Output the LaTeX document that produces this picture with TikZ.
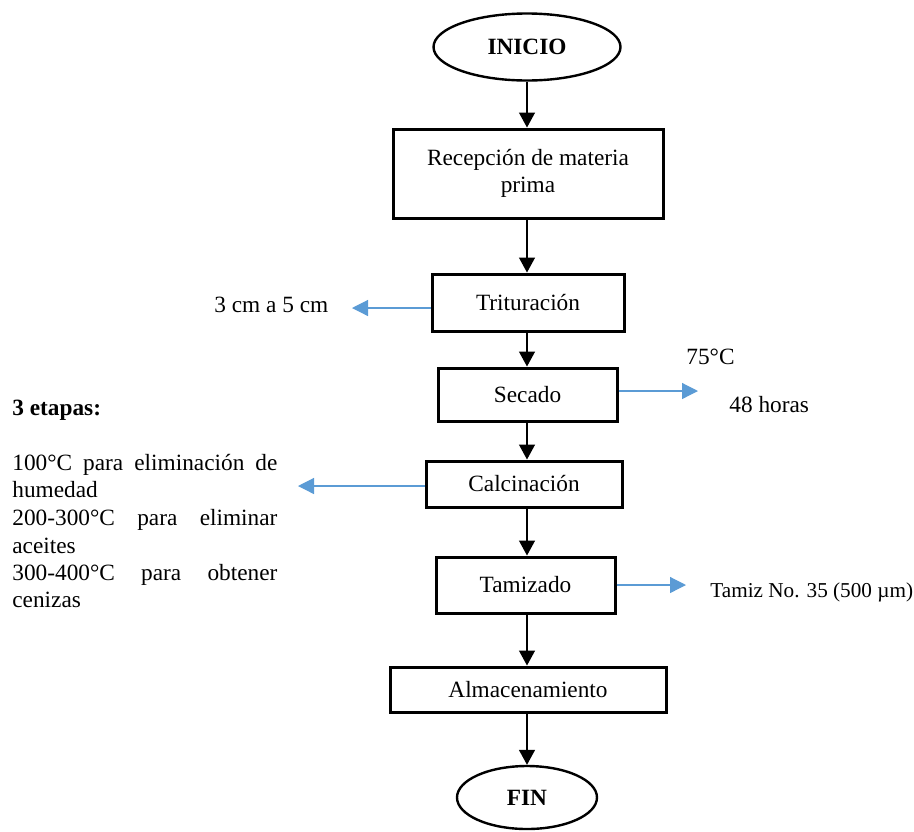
\documentclass[tikz,border=0pt]{standalone}
\usepackage{fontspec}
\setmainfont{Liberation Serif}
\usetikzlibrary{arrows.meta,shapes.geometric}
\definecolor{flowblue}{HTML}{5B9BD5}
\newcommand{\jline}[1]{\makebox[132.5pt][s]{#1}}
\begin{document}
\begin{tikzpicture}[x=0.5pt,y=-0.5pt,
  font=\fontsize{11.65}{13.2}\selectfont,
  stepbox/.style={draw, line width=1.5pt, rectangle, inner sep=0pt, align=center},
  terminal/.style={draw, ellipse, line width=1.2pt, inner sep=0pt,
    font=\fontsize{11.65}{13.2}\selectfont\bfseries},
  flow/.style={line width=0.7pt, -{Triangle[length=7.5pt,width=8pt]}},
  sideflow/.style={draw=flowblue, line width=0.6pt,
    -{Triangle[length=8pt,width=8pt,fill=flowblue]}},
  note/.style={inner sep=0pt, anchor=base west},
]
\useasboundingbox (0,0) rectangle (914,831);

% main process column
\node[terminal, minimum width=93.5pt, minimum height=33.5pt] (inicio) at (527,47) {INICIO};
\node[stepbox, minimum width=135pt, minimum height=44.5pt] (recep) at (528,173.5)
  {Recepción de materia\\prima};
\node[stepbox, minimum width=96pt, minimum height=28.5pt] (trit) at (528,302.5) {Trituración};
\node[stepbox, minimum width=89.5pt, minimum height=26.5pt] (secado) at (527.5,394.5) {Secado};
\node[stepbox, minimum width=98pt, minimum height=23pt] (calc) at (524,484) {Calcinación};
\node[stepbox, minimum width=89.5pt, minimum height=28pt] (tamiz) at (525.5,585) {Tamizado};
\node[stepbox, minimum width=138pt, minimum height=22.5pt] (alm) at (528,689.5) {Almacenamiento};
\node[terminal, minimum width=70pt, minimum height=31.5pt] (fin) at (527,797.5) {FIN};

% main connectors
\draw[flow] (inicio.south) -- (inicio.south |- recep.north);
\draw[flow] (recep.south -| 527,0) -- (527,0 |- trit.north);
\draw[flow] (trit.south -| 527,0) -- (527,0 |- secado.north);
\draw[flow] (secado.south -| 527,0) -- (527,0 |- calc.north);
\draw[flow] (calc.south -| 527,0) -- (527,0 |- tamiz.north);
\draw[flow] (tamiz.south -| 527,0) -- (527,0 |- alm.north);
\draw[flow] (alm.south -| 527,0) -- (fin.north);

% side notes
\coordinate (tritout) at (352,308);
\coordinate (secout) at (698,391);
\coordinate (calcout) at (298,486);
\coordinate (tamout) at (686,585);

\draw[sideflow] (trit.west |- tritout) -- (tritout);
\draw[sideflow] (secado.east |- secout) -- (secout);
\draw[sideflow] (calc.west |- calcout) -- (calcout);
\draw[sideflow] (tamiz.east |- tamout) -- (tamout);

\node[note] (size) at (214,312) {3 cm a 5 cm};
\node[note] (temp) at (686,364) {75°C};
\node[note] (time) at (729,412) {48 horas};
\node[note, font=\fontsize{10.6}{12.5}\selectfont] (sieve) at (710,597) {Tamiz No. 35 (500 µm)};

\node[note, font=\fontsize{11.65}{13.2}\selectfont\bfseries] (stages) at (12,415) {3 etapas:};
\node[note] (st1) at (12,470) {\jline{100°C para eliminación de}};
\node[note] (st2) at (12,497) {humedad};
\node[note] (st3) at (12,525) {\jline{200-300°C para eliminar}};
\node[note] (st4) at (12,553) {aceites};
\node[note] (st5) at (12,580) {\jline{300-400°C para obtener}};
\node[note] (st6) at (12,607) {cenizas};
\end{tikzpicture}
\end{document}
